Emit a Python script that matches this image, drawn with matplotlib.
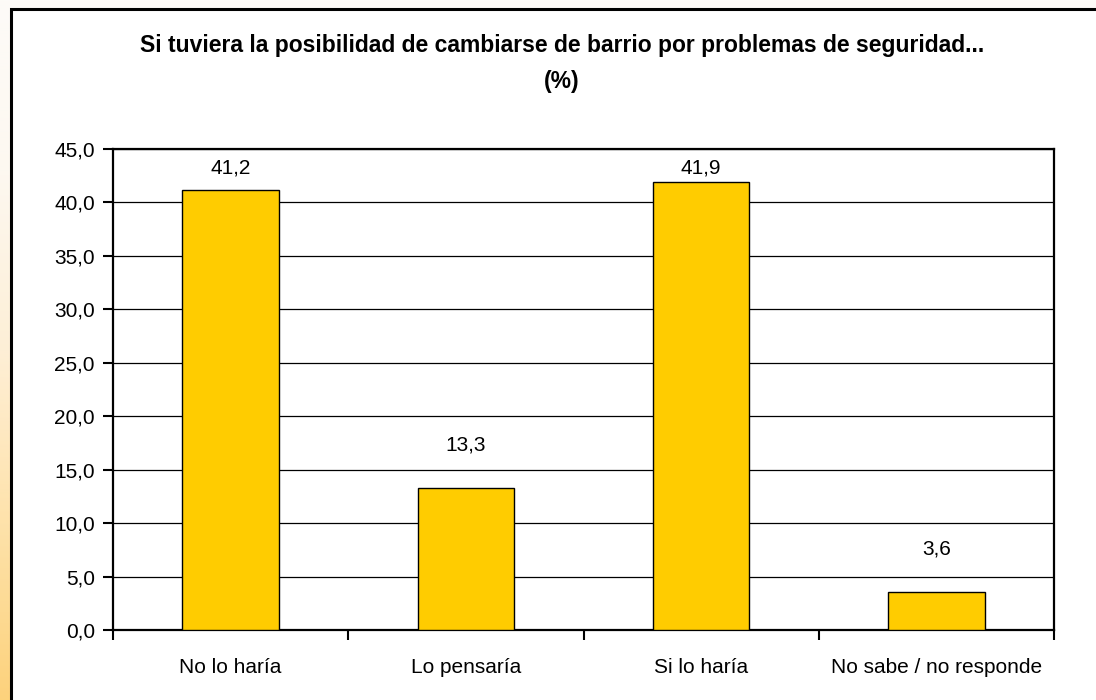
import numpy as np
import matplotlib
matplotlib.use("Agg")
import matplotlib.pyplot as plt
from matplotlib.patches import Rectangle
from matplotlib.colors import LinearSegmentedColormap

categories = ["No lo haría", "Lo pensaría", "Si lo haría", "No sabe / no responde"]
values = [41.2, 13.3, 41.9, 3.6]
value_labels = ["41,2", "13,3", "41,9", "3,6"]
yticks = [0, 5, 10, 15, 20, 25, 30, 35, 40, 45]
ytick_labels = ["0,0", "5,0", "10,0", "15,0", "20,0", "25,0", "30,0", "35,0", "40,0", "45,0"]
title_lines = ["Si tuviera la posibilidad de cambiarse de barrio por problemas de seguridad...", "(%)"]

plt.rcParams["font.family"] = ["Liberation Sans", "DejaVu Sans"]

W, H = 1096, 700
fig = plt.figure(figsize=(W / 100, H / 100), dpi=100)

# warm vertical gradient behind the chart frame
bg = fig.add_axes([0, 0, 1, 1], zorder=-10)
cmap = LinearSegmentedColormap.from_list("warm", ["#fdd27c", "#fee2aa", "#feefd6", "#fdf8f0", "#fdfbf8"])
grad = np.linspace(0, 1, 256).reshape(-1, 1)
bg.imshow(grad, aspect="auto", cmap=cmap, origin="lower", extent=[0, 1, 0, 1])
bg.set_axis_off()

# white chart frame (extends beyond right and bottom edges)
frame = Rectangle((11 / W, -0.05), 1.2, 1 - 9 / H + 0.05, transform=fig.transFigure,
                  facecolor="white", edgecolor="black", linewidth=2.2, zorder=-5)
fig.patches.append(frame)

ax = fig.add_axes([113 / W, 1 - 630 / H, (1054 - 113) / W, (630 - 149) / H])
ax.set_facecolor("white")
x = np.arange(len(categories))
ax.bar(x, values, width=0.41, color="#FFCC00", edgecolor="black", linewidth=1.0, zorder=3)

for xi, v, lab in zip(x, values, value_labels):
    ax.text(xi, min(v + 4.0, 43.2), lab, ha="center", va="center", fontsize=15, zorder=4)

ax.set_xlim(-0.5, len(categories) - 0.5)
ax.set_ylim(0, 45)
ax.set_yticks(yticks)
ax.set_yticklabels(ytick_labels, fontsize=15)
ax.yaxis.grid(True, color="black", linewidth=0.9, zorder=0)
ax.set_axisbelow(True)

ax.set_xticks(x)
ax.set_xticklabels(categories, fontsize=15)
ax.set_xticks(np.arange(-0.5, len(categories)), minor=True)
ax.tick_params(axis="x", which="major", length=0, pad=20)
ax.tick_params(axis="x", which="minor", length=7, width=1.5, direction="out")
ax.tick_params(axis="y", length=7, width=1.5, direction="out", pad=6)

for s in ax.spines.values():
    s.set_color("black")
    s.set_linewidth(1.6)

fig.text(562 / W, 1 - 52 / H, title_lines[0], ha="center", va="baseline", fontsize=16.5, fontweight="bold")
fig.text(562 / W, 1 - 88 / H, title_lines[1], ha="center", va="baseline", fontsize=16.5, fontweight="bold")

fig.savefig("out.png", dpi=100)
